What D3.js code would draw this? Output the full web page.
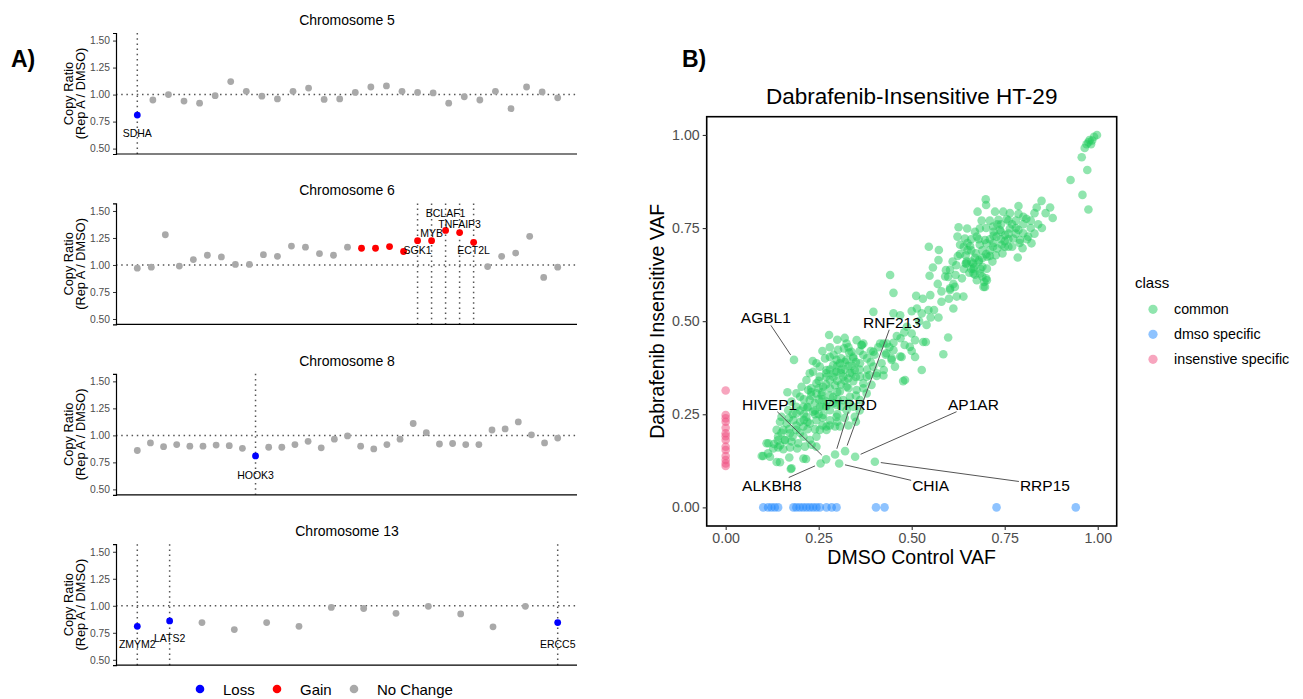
<!DOCTYPE html>
<html>
<head>
<meta charset="utf-8">
<script src="https://cdn.jsdelivr.net/npm/d3@7"></script>
<style>
  body { margin: 0; background: #fff; }
  svg { font-family: "Liberation Sans", Arial, sans-serif; }
</style>
</head>
<body>
<svg id="chart" width="1303" height="699"></svg>
<script>
// ---- panel A data: copy ratio per gene, in chromosome order ----
let chr5Ratio = [0.81, 0.95, 1.00, 0.94, 0.92, 0.99, 1.12, 1.03, 0.985, 0.96, 1.03, 1.06, 0.955, 0.96,
  1.02, 1.07, 1.08, 1.03, 1.02, 1.015, 0.92, 0.98, 0.95, 1.03, 0.87, 1.07, 1.025, 0.97];
let chr6Ratio = [0.97, 0.98, 1.28, 0.99, 1.05, 1.09, 1.075, 1.005, 1.005, 1.095, 1.08, 1.175, 1.165, 1.105,
  1.09, 1.165, 1.155, 1.155, 1.17, 1.125, 1.225, 1.225, 1.32, 1.30, 1.21, 0.985, 1.08, 1.11, 1.265, 0.885, 0.98];
let chr8Ratio = [0.86, 0.93, 0.895, 0.915, 0.90, 0.90, 0.91, 0.905, 0.88, 0.81, 0.89, 0.89, 0.915, 0.945,
  0.885, 0.965, 0.995, 0.90, 0.875, 0.915, 0.965, 1.11, 1.025, 0.92, 0.925, 0.915, 0.915, 1.05, 1.06,
  1.125, 1.005, 0.93, 0.975];
let chr13Ratio = [0.81, 0.86, 0.845, 0.78, 0.845, 0.81, 0.985, 0.975, 0.93, 0.995, 0.925, 0.805, 0.995, 0.845];

// indices of genes called loss / gain
let chr5Loss = [0], chr5Gain = [];
let chr6Loss = [], chr6Gain = [16, 17, 18, 19, 20, 21, 22, 23, 24];
let chr8Loss = [9], chr8Gain = [];
let chr13Loss = [0, 1, 13], chr13Gain = [];

// highlighted genes: index and where the label sits (in ratio units)
let chr5Marked = [{ gene: "SDHA", i: 0, ly: 0.645 }];
let chr6Marked = [
  { gene: "SGK1", i: 20, ly: 1.143 },
  { gene: "MYB", i: 21, ly: 1.30 },
  { gene: "BCLAF1", i: 22, ly: 1.485 },
  { gene: "TNFAIP3", i: 23, ly: 1.377 },
  { gene: "ECT2L", i: 24, ly: 1.143 }
];
let chr8Marked = [{ gene: "HOOK3", i: 9, ly: 0.633 }];
let chr13Marked = [
  { gene: "ZMYM2", i: 0, ly: 0.642 },
  { gene: "LATS2", i: 1, ly: 0.698 },
  { gene: "ERCC5", i: 13, ly: 0.642 }
];

let chromNames = ["Chromosome 5", "Chromosome 6", "Chromosome 8", "Chromosome 13"];
let ratioTicks = [0.5, 0.75, 1.0, 1.25, 1.5];
let statusNames = ["Loss", "Gain", "No Change"];
let statusColors = ["#0000ff", "#ff0000", "#a9a9a9"];

// ---- panel B data: [DMSO control VAF, dabrafenib insensitive VAF] ----
let commonVAF = [
  [0.998, 1.0], [0.99, 0.995], [0.985, 0.985], [0.978, 0.986], [0.975, 0.98], [0.982, 0.975], [0.97, 0.975],
  [0.965, 0.965], [0.957, 0.94], [0.972, 0.906], [0.927, 0.879], [0.959, 0.839], [0.975, 0.80],
  [0.699, 0.827], [0.70, 0.812], [0.677, 0.794], [0.724, 0.794], [0.746, 0.794], [0.764, 0.79], [0.787, 0.809],
  [0.787, 0.788], [0.808, 0.775], [0.83, 0.79], [0.836, 0.805], [0.849, 0.823], [0.872, 0.805], [0.879, 0.777],
  [0.688, 0.77], [0.71, 0.77], [0.733, 0.772], [0.755, 0.774], [0.626, 0.752], [0.649, 0.749], [0.683, 0.749],
  [0.719, 0.754], [0.737, 0.745], [0.764, 0.749], [0.787, 0.745], [0.80, 0.736], [0.623, 0.727], [0.643, 0.722],
  [0.675, 0.727], [0.697, 0.718], [0.728, 0.727], [0.751, 0.731], [0.773, 0.722], [0.791, 0.718], [0.813, 0.727],
  [0.63, 0.705], [0.657, 0.702], [0.683, 0.705], [0.701, 0.709], [0.719, 0.70], [0.742, 0.705], [0.76, 0.70],
  [0.798, 0.696], [0.822, 0.709], [0.546, 0.70], [0.573, 0.691], [0.572, 0.664], [0.557, 0.644], [0.548, 0.622],
  [0.603, 0.638], [0.598, 0.619], [0.618, 0.624], [0.624, 0.675], [0.645, 0.677], [0.645, 0.655], [0.672, 0.682],
  [0.681, 0.664], [0.668, 0.646], [0.69, 0.646], [0.703, 0.673], [0.717, 0.66], [0.726, 0.677], [0.744, 0.682],
  [0.785, 0.671], [0.666, 0.628], [0.684, 0.628], [0.702, 0.641], [0.70, 0.615], [0.697, 0.592], [0.603, 0.588],
  [0.616, 0.592], [0.648, 0.66], [0.66, 0.69], [0.69, 0.69], [0.71, 0.72], [0.74, 0.74], [0.77, 0.76],
  [0.68, 0.66], [0.66, 0.66], [0.71, 0.69], [0.75, 0.715], [0.78, 0.735], [0.82, 0.75], [0.84, 0.76],
  [0.86, 0.79], [0.67, 0.74], [0.65, 0.71], [0.70, 0.68], [0.685, 0.64], [0.675, 0.61], [0.665, 0.655],
  [0.73, 0.76], [0.76, 0.72], [0.80, 0.76], [0.72, 0.71],
  [0.72, 0.74], [0.74, 0.76], [0.76, 0.77], [0.78, 0.77], [0.70, 0.75], [0.68, 0.72], [0.66, 0.72], [0.64, 0.70],
  [0.63, 0.68], [0.65, 0.69], [0.67, 0.67], [0.69, 0.67], [0.71, 0.675], [0.73, 0.695], [0.75, 0.70], [0.77, 0.70],
  [0.79, 0.71], [0.81, 0.72], [0.83, 0.735], [0.85, 0.75], [0.72, 0.73], [0.74, 0.72], [0.76, 0.735], [0.78, 0.75],
  [0.80, 0.78], [0.82, 0.77], [0.66, 0.64], [0.655, 0.63], [0.67, 0.625], [0.69, 0.62], [0.695, 0.605], [0.64, 0.64],
  [0.62, 0.65], [0.61, 0.66], [0.635, 0.615],
  [0.442, 0.624], [0.592, 0.637], [0.612, 0.60], [0.603, 0.584], [0.621, 0.566], [0.639, 0.566], [0.451, 0.576],
  [0.512, 0.568], [0.58, 0.552], [0.612, 0.534], [0.514, 0.534], [0.527, 0.521], [0.545, 0.53], [0.551, 0.51],
  [0.572, 0.51], [0.50, 0.527], [0.451, 0.521], [0.469, 0.516], [0.397, 0.525], [0.487, 0.485], [0.50, 0.467],
  [0.509, 0.449], [0.531, 0.444], [0.47, 0.454], [0.481, 0.436], [0.495, 0.431], [0.451, 0.442], [0.433, 0.44],
  [0.451, 0.422], [0.473, 0.404], [0.446, 0.40], [0.509, 0.404], [0.527, 0.369], [0.538, 0.444], [0.598, 0.456],
  [0.585, 0.411], [0.482, 0.342], [0.397, 0.418], [0.415, 0.44], [0.366, 0.436], [0.318, 0.427], [0.343, 0.404],
  [0.455, 0.378], [0.425, 0.369], [0.647, 0.655], [0.666, 0.641], [0.693, 0.592], [0.702, 0.61],
  [0.477, 0.339], [0.446, 0.396], [0.469, 0.405], [0.406, 0.353],
  [0.52, 0.50], [0.54, 0.49], [0.56, 0.53], [0.58, 0.58], [0.60, 0.56], [0.48, 0.47], [0.46, 0.46], [0.44, 0.43],
  [0.53, 0.56], [0.55, 0.57], [0.57, 0.60], [0.59, 0.62], [0.43, 0.41], [0.50, 0.42],
  [0.234, 0.393], [0.278, 0.463], [0.302, 0.423], [0.332, 0.416], [0.365, 0.436], [0.37, 0.409], [0.424, 0.44],
  [0.424, 0.354], [0.397, 0.378], [0.386, 0.355], [0.166, 0.309], [0.11, 0.172], [0.114, 0.145], [0.101, 0.138],
  [0.141, 0.161], [0.155, 0.156], [0.173, 0.161], [0.146, 0.121], [0.175, 0.103], [0.209, 0.131], [0.192, 0.158],
  [0.097, 0.138], [0.115, 0.172], [0.137, 0.122], [0.177, 0.105], [0.171, 0.134], [0.216, 0.13],
  [0.20, 0.297], [0.222, 0.315], [0.244, 0.333], [0.253, 0.351], [0.271, 0.369], [0.289, 0.382], [0.307, 0.387],
  [0.325, 0.396], [0.343, 0.40], [0.361, 0.387], [0.347, 0.369], [0.334, 0.36], [0.316, 0.351], [0.298, 0.364],
  [0.28, 0.342], [0.262, 0.324], [0.244, 0.306], [0.226, 0.288], [0.209, 0.27], [0.19, 0.252], [0.182, 0.234],
  [0.164, 0.225], [0.15, 0.243], [0.155, 0.208], [0.173, 0.199], [0.19, 0.208], [0.209, 0.217], [0.226, 0.225],
  [0.244, 0.234], [0.262, 0.248], [0.28, 0.261], [0.298, 0.275], [0.316, 0.288], [0.334, 0.297], [0.352, 0.315],
  [0.37, 0.333], [0.379, 0.351], [0.361, 0.351], [0.343, 0.339], [0.325, 0.324], [0.307, 0.311], [0.289, 0.297],
  [0.271, 0.284], [0.253, 0.27], [0.235, 0.257], [0.217, 0.243], [0.20, 0.23], [0.209, 0.19], [0.226, 0.181],
  [0.244, 0.19], [0.253, 0.208], [0.271, 0.217], [0.28, 0.234], [0.298, 0.243], [0.307, 0.217], [0.325, 0.261],
  [0.343, 0.27], [0.361, 0.288], [0.379, 0.306], [0.392, 0.329], [0.406, 0.36], [0.419, 0.387], [0.432, 0.414],
  [0.325, 0.44], [0.352, 0.449], [0.338, 0.418], [0.298, 0.396], [0.267, 0.40], [0.253, 0.378], [0.235, 0.364],
  [0.217, 0.342], [0.204, 0.324], [0.19, 0.306], [0.177, 0.284], [0.168, 0.261], [0.146, 0.23], [0.137, 0.208],
  [0.141, 0.19], [0.159, 0.181], [0.177, 0.177], [0.195, 0.172], [0.213, 0.163], [0.231, 0.168], [0.244, 0.163],
  [0.146, 0.167], [0.128, 0.158], [0.119, 0.136], [0.22, 0.268], [0.258, 0.301], [0.294, 0.328], [0.329, 0.346],
  [0.28, 0.404], [0.244, 0.387], [0.226, 0.36], [0.294, 0.217], [0.347, 0.243], [0.271, 0.208],
  [0.27, 0.33], [0.29, 0.35], [0.31, 0.33], [0.30, 0.31], [0.32, 0.37], [0.26, 0.29], [0.24, 0.28], [0.28, 0.30],
  [0.30, 0.29], [0.33, 0.32], [0.35, 0.35], [0.25, 0.32], [0.23, 0.30], [0.27, 0.36], [0.31, 0.37], [0.34, 0.38],
  [0.21, 0.25], [0.19, 0.22], [0.25, 0.25], [0.26, 0.27],
  [0.23, 0.32], [0.25, 0.34], [0.27, 0.35], [0.29, 0.36], [0.31, 0.36], [0.33, 0.38], [0.28, 0.37], [0.26, 0.31],
  [0.28, 0.32], [0.30, 0.34], [0.32, 0.34], [0.34, 0.36], [0.36, 0.37], [0.35, 0.39], [0.31, 0.40], [0.29, 0.41],
  [0.33, 0.43], [0.36, 0.42], [0.38, 0.40], [0.38, 0.37], [0.39, 0.39], [0.24, 0.26], [0.22, 0.27], [0.20, 0.26],
  [0.18, 0.25], [0.17, 0.24], [0.19, 0.27], [0.21, 0.29], [0.23, 0.31], [0.25, 0.29], [0.27, 0.27], [0.29, 0.28],
  [0.31, 0.27], [0.33, 0.28], [0.35, 0.30], [0.37, 0.32], [0.20, 0.20], [0.22, 0.21], [0.24, 0.21], [0.26, 0.22],
  [0.28, 0.22], [0.30, 0.23], [0.32, 0.24], [0.18, 0.19], [0.16, 0.18], [0.14, 0.18], [0.13, 0.17], [0.15, 0.20],
  [0.17, 0.21], [0.36, 0.26], [0.35, 0.23], [0.33, 0.22], [0.24, 0.25], [0.26, 0.24], [0.30, 0.25], [0.22, 0.23],
  [0.21, 0.235], [0.40, 0.41], [0.41, 0.43], [0.39, 0.42], [0.37, 0.44], [0.30, 0.45], [0.32, 0.455], [0.28, 0.43],
  [0.26, 0.42], [0.30, 0.38], [0.32, 0.39]
];
let dmsoSpecificVAF = [
  [0.101, 0], [0.114, 0], [0.123, 0], [0.132, 0], [0.141, 0], [0.182, 0], [0.19, 0], [0.199, 0], [0.208, 0],
  [0.217, 0], [0.226, 0], [0.235, 0], [0.244, 0], [0.253, 0], [0.271, 0], [0.285, 0], [0.298, 0], [0.404, 0],
  [0.427, 0], [0.728, 0], [0.941, 0]
];
let insensitiveSpecificVAF = [
  [0, 0.314], [0, 0.248], [0, 0.239], [0, 0.23], [0, 0.214], [0, 0.199], [0, 0.191], [0, 0.181], [0, 0.163],
  [0, 0.154], [0, 0.138], [0, 0.127], [0, 0.118], [0, 0.111]
];
// labelled variants: point and label centre, both in VAF units
let labelledVAF = [
  { gene: "AGBL1", x: 0.1836, y: 0.396, lx: 0.108, ly: 0.509 },
  { gene: "RNF213", x: 0.321, y: 0.151, lx: 0.447, ly: 0.497 },
  { gene: "HIVEP1", x: 0.27, y: 0.129, lx: 0.118, ly: 0.277 },
  { gene: "PTPRD", x: 0.294, y: 0.142, lx: 0.336, ly: 0.277 },
  { gene: "AP1AR", x: 0.348, y: 0.136, lx: 0.666, ly: 0.277 },
  { gene: "ALKBH8", x: 0.255, y: 0.118, lx: 0.124, ly: 0.060 },
  { gene: "CHIA", x: 0.305, y: 0.118, lx: 0.551, ly: 0.060 },
  { gene: "RRP15", x: 0.401, y: 0.1225, lx: 0.858, ly: 0.060 }
];
let vafTicks = [0, 0.25, 0.5, 0.75, 1.0];
let classNames = ["common", "dmso specific", "insenstive specific"];
let classColors = ["#22cc5e", "#1e88ff", "#ef4b7d"];

let svg = d3.select("#chart");
svg.append("rect").attr("width", 1303).attr("height", 699).attr("fill", "#fff");

let fmt = d3.format(".2f");

// ---------- Panel A ----------
svg.append("text").attr("x", 11).attr("y", 67)
  .attr("font-size", 23).attr("font-weight", "bold").text("A)");

let chroms = [
  { ratio: chr5Ratio, loss: chr5Loss, gain: chr5Gain, marked: chr5Marked },
  { ratio: chr6Ratio, loss: chr6Loss, gain: chr6Gain, marked: chr6Marked },
  { ratio: chr8Ratio, loss: chr8Loss, gain: chr8Gain, marked: chr8Marked },
  { ratio: chr13Ratio, loss: chr13Loss, gain: chr13Gain, marked: chr13Marked }
];

let drawChrom = (c, k) => {
  let off = k * 170.4;
  let g = svg.append("g");
  let x = d3.scaleLinear().domain([0, c.ratio.length - 1]).range([137.3, 557.7]);
  let y = d3.scaleLinear().domain([0.45, 1.57]).range([154 + off, 33 + off]);

  g.append("text").attr("x", 347).attr("y", 25 + off)
    .attr("text-anchor", "middle").attr("font-size", 14).text(chromNames[k]);

  // reference line at ratio 1
  g.append("line").attr("x1", 116).attr("x2", 577)
    .attr("y1", y(1)).attr("y2", y(1))
    .attr("stroke", "#555").attr("stroke-width", 1.5)
    .attr("stroke-dasharray", "1.5 3.7");

  g.selectAll(".vline").data(c.marked).enter().append("line")
    .attr("x1", d => x(d.i)).attr("x2", d => x(d.i))
    .attr("y1", y(1.57)).attr("y2", y(0.45))
    .attr("stroke", "#555").attr("stroke-width", 1.5)
    .attr("stroke-dasharray", "1.5 3.7");

  let yAxis = d3.axisLeft(y).tickValues(ratioTicks).tickFormat(fmt).tickSize(3).tickPadding(3);
  let ya = g.append("g").attr("transform", "translate(116,0)").call(yAxis);
  ya.select(".domain").attr("stroke", "#000").attr("stroke-width", 1.2);
  ya.selectAll(".tick line").attr("stroke", "#333");
  ya.selectAll(".tick text").attr("font-size", 10.3).attr("fill", "#4d4d4d")
    .attr("font-family", "Liberation Sans, Arial, sans-serif");

  g.append("line").attr("x1", 116).attr("x2", 577)
    .attr("y1", 154 + off).attr("y2", 154 + off)
    .attr("stroke", "#000").attr("stroke-width", 1.2);

  let mid = 93.5 + off;
  g.append("text").attr("transform", `translate(68,${mid}) rotate(-90)`)
    .attr("text-anchor", "middle").attr("dominant-baseline", "central")
    .attr("font-size", 12.8).text("Copy Ratio");
  g.append("text").attr("transform", `translate(80.5,${mid}) rotate(-90)`)
    .attr("text-anchor", "middle").attr("dominant-baseline", "central")
    .attr("font-size", 12.8).text("(Rep A / DMSO)");

  let status = i => c.loss.includes(i) ? 0 : (c.gain.includes(i) ? 1 : 2);
  g.selectAll(".pt").data(c.ratio).enter().append("circle")
    .attr("cx", (d, i) => x(i)).attr("cy", d => y(d))
    .attr("r", 3.4).attr("fill", (d, i) => statusColors[status(i)]);

  g.selectAll(".lab").data(c.marked).enter().append("text")
    .attr("x", d => x(d.i)).attr("y", d => y(d.ly))
    .attr("text-anchor", "middle").attr("dominant-baseline", "central")
    .attr("font-size", 10.5).text(d => d.gene);
};

chroms.forEach(drawChrom);

// legend for panel A
let legA = svg.append("g");
let legAx = [200, 277, 354];
statusNames.forEach((s, i) => {
  legA.append("circle").attr("cx", legAx[i]).attr("cy", 689).attr("r", 4.3).attr("fill", statusColors[i]);
  legA.append("text").attr("x", legAx[i] + 23).attr("y", 689)
    .attr("dominant-baseline", "central").attr("font-size", 15).text(s);
});

// ---------- Panel B ----------
svg.append("text").attr("x", 682).attr("y", 67)
  .attr("font-size", 23).attr("font-weight", "bold").text("B)");

let xB = d3.scaleLinear().domain([-0.051, 1.051]).range([706.7, 1116.7]);
let yB = d3.scaleLinear().domain([-0.05, 1.049]).range([526, 116.7]);

svg.append("text").attr("x", 911.7).attr("y", 103.5)
  .attr("text-anchor", "middle").attr("font-size", 22.5).text("Dabrafenib-Insensitive HT-29");

let gB = svg.append("g");
let drawClass = (arr, k) => {
  gB.selectAll(".c" + k).data(arr).enter().append("circle")
    .attr("cx", d => xB(d[0])).attr("cy", d => yB(d[1]))
    .attr("r", 4.3).attr("fill", classColors[k]).attr("fill-opacity", 0.5);
};
drawClass(commonVAF, 0);
drawClass(labelledVAF.map(d => [d.x, d.y]), 0);
drawClass(dmsoSpecificVAF, 1);
drawClass(insensitiveSpecificVAF, 2);

// labels + leader segments
labelledVAF.forEach(d => {
  let t = gB.append("text").attr("x", xB(d.lx)).attr("y", yB(d.ly))
    .attr("text-anchor", "middle").attr("dominant-baseline", "central")
    .attr("font-size", 15.5).text(d.gene);
  let bb = t.node().getBBox();
  let px = xB(d.x), py = yB(d.y);
  let cx = bb.x + bb.width / 2, cy = bb.y + bb.height / 2;
  let hw = bb.width / 2 + 1, hh = bb.height / 2 - 1;
  let dx = px - cx, dy = py - cy;
  let s = Math.min(Math.abs(hw / (dx || 1e-9)), Math.abs(hh / (dy || 1e-9)));
  let sx = cx + dx * s, sy = cy + dy * s;
  let len = Math.hypot(px - sx, py - sy);
  let ex = px - (px - sx) / len * 6, ey = py - (py - sy) / len * 6;
  gB.append("line").attr("x1", sx).attr("y1", sy).attr("x2", ex).attr("y2", ey)
    .attr("stroke", "#555").attr("stroke-width", 1);
});

svg.append("rect").attr("x", 706.7).attr("y", 116.7).attr("width", 410).attr("height", 409.3)
  .attr("fill", "none").attr("stroke", "#000").attr("stroke-width", 1.6);

let xAxisB = svg.append("g").attr("transform", "translate(0,526)")
  .call(d3.axisBottom(xB).tickValues(vafTicks).tickFormat(fmt).tickSize(4).tickPadding(3));
let yAxisB = svg.append("g").attr("transform", "translate(706.7,0)")
  .call(d3.axisLeft(yB).tickValues(vafTicks).tickFormat(fmt).tickSize(4).tickPadding(3));
[xAxisB, yAxisB].forEach(a => {
  a.select(".domain").remove();
  a.selectAll(".tick line").attr("stroke", "#333").attr("stroke-width", 1.1);
  a.selectAll(".tick text").attr("font-size", 14.2).attr("fill", "#4d4d4d")
    .attr("font-family", "Liberation Sans, Arial, sans-serif");
});

svg.append("text").attr("x", 911.7).attr("y", 563.5)
  .attr("text-anchor", "middle").attr("font-size", 19.5).text("DMSO Control VAF");
svg.append("text").attr("transform", "translate(657,321.3) rotate(-90)")
  .attr("text-anchor", "middle").attr("dominant-baseline", "central")
  .attr("font-size", 19.5).text("Dabrafenib Insensitive VAF");

// legend for panel B
let legB = svg.append("g");
legB.append("text").attr("x", 1135).attr("y", 288).attr("font-size", 15).text("class");
classNames.forEach((c, i) => {
  let cy = 309.3 + i * 25;
  legB.append("circle").attr("cx", 1153).attr("cy", cy).attr("r", 4.6)
    .attr("fill", classColors[i]).attr("fill-opacity", 0.5);
  legB.append("text").attr("x", 1174).attr("y", cy)
    .attr("dominant-baseline", "central").attr("font-size", 14.3).text(c);
});
</script>
</body>
</html>
